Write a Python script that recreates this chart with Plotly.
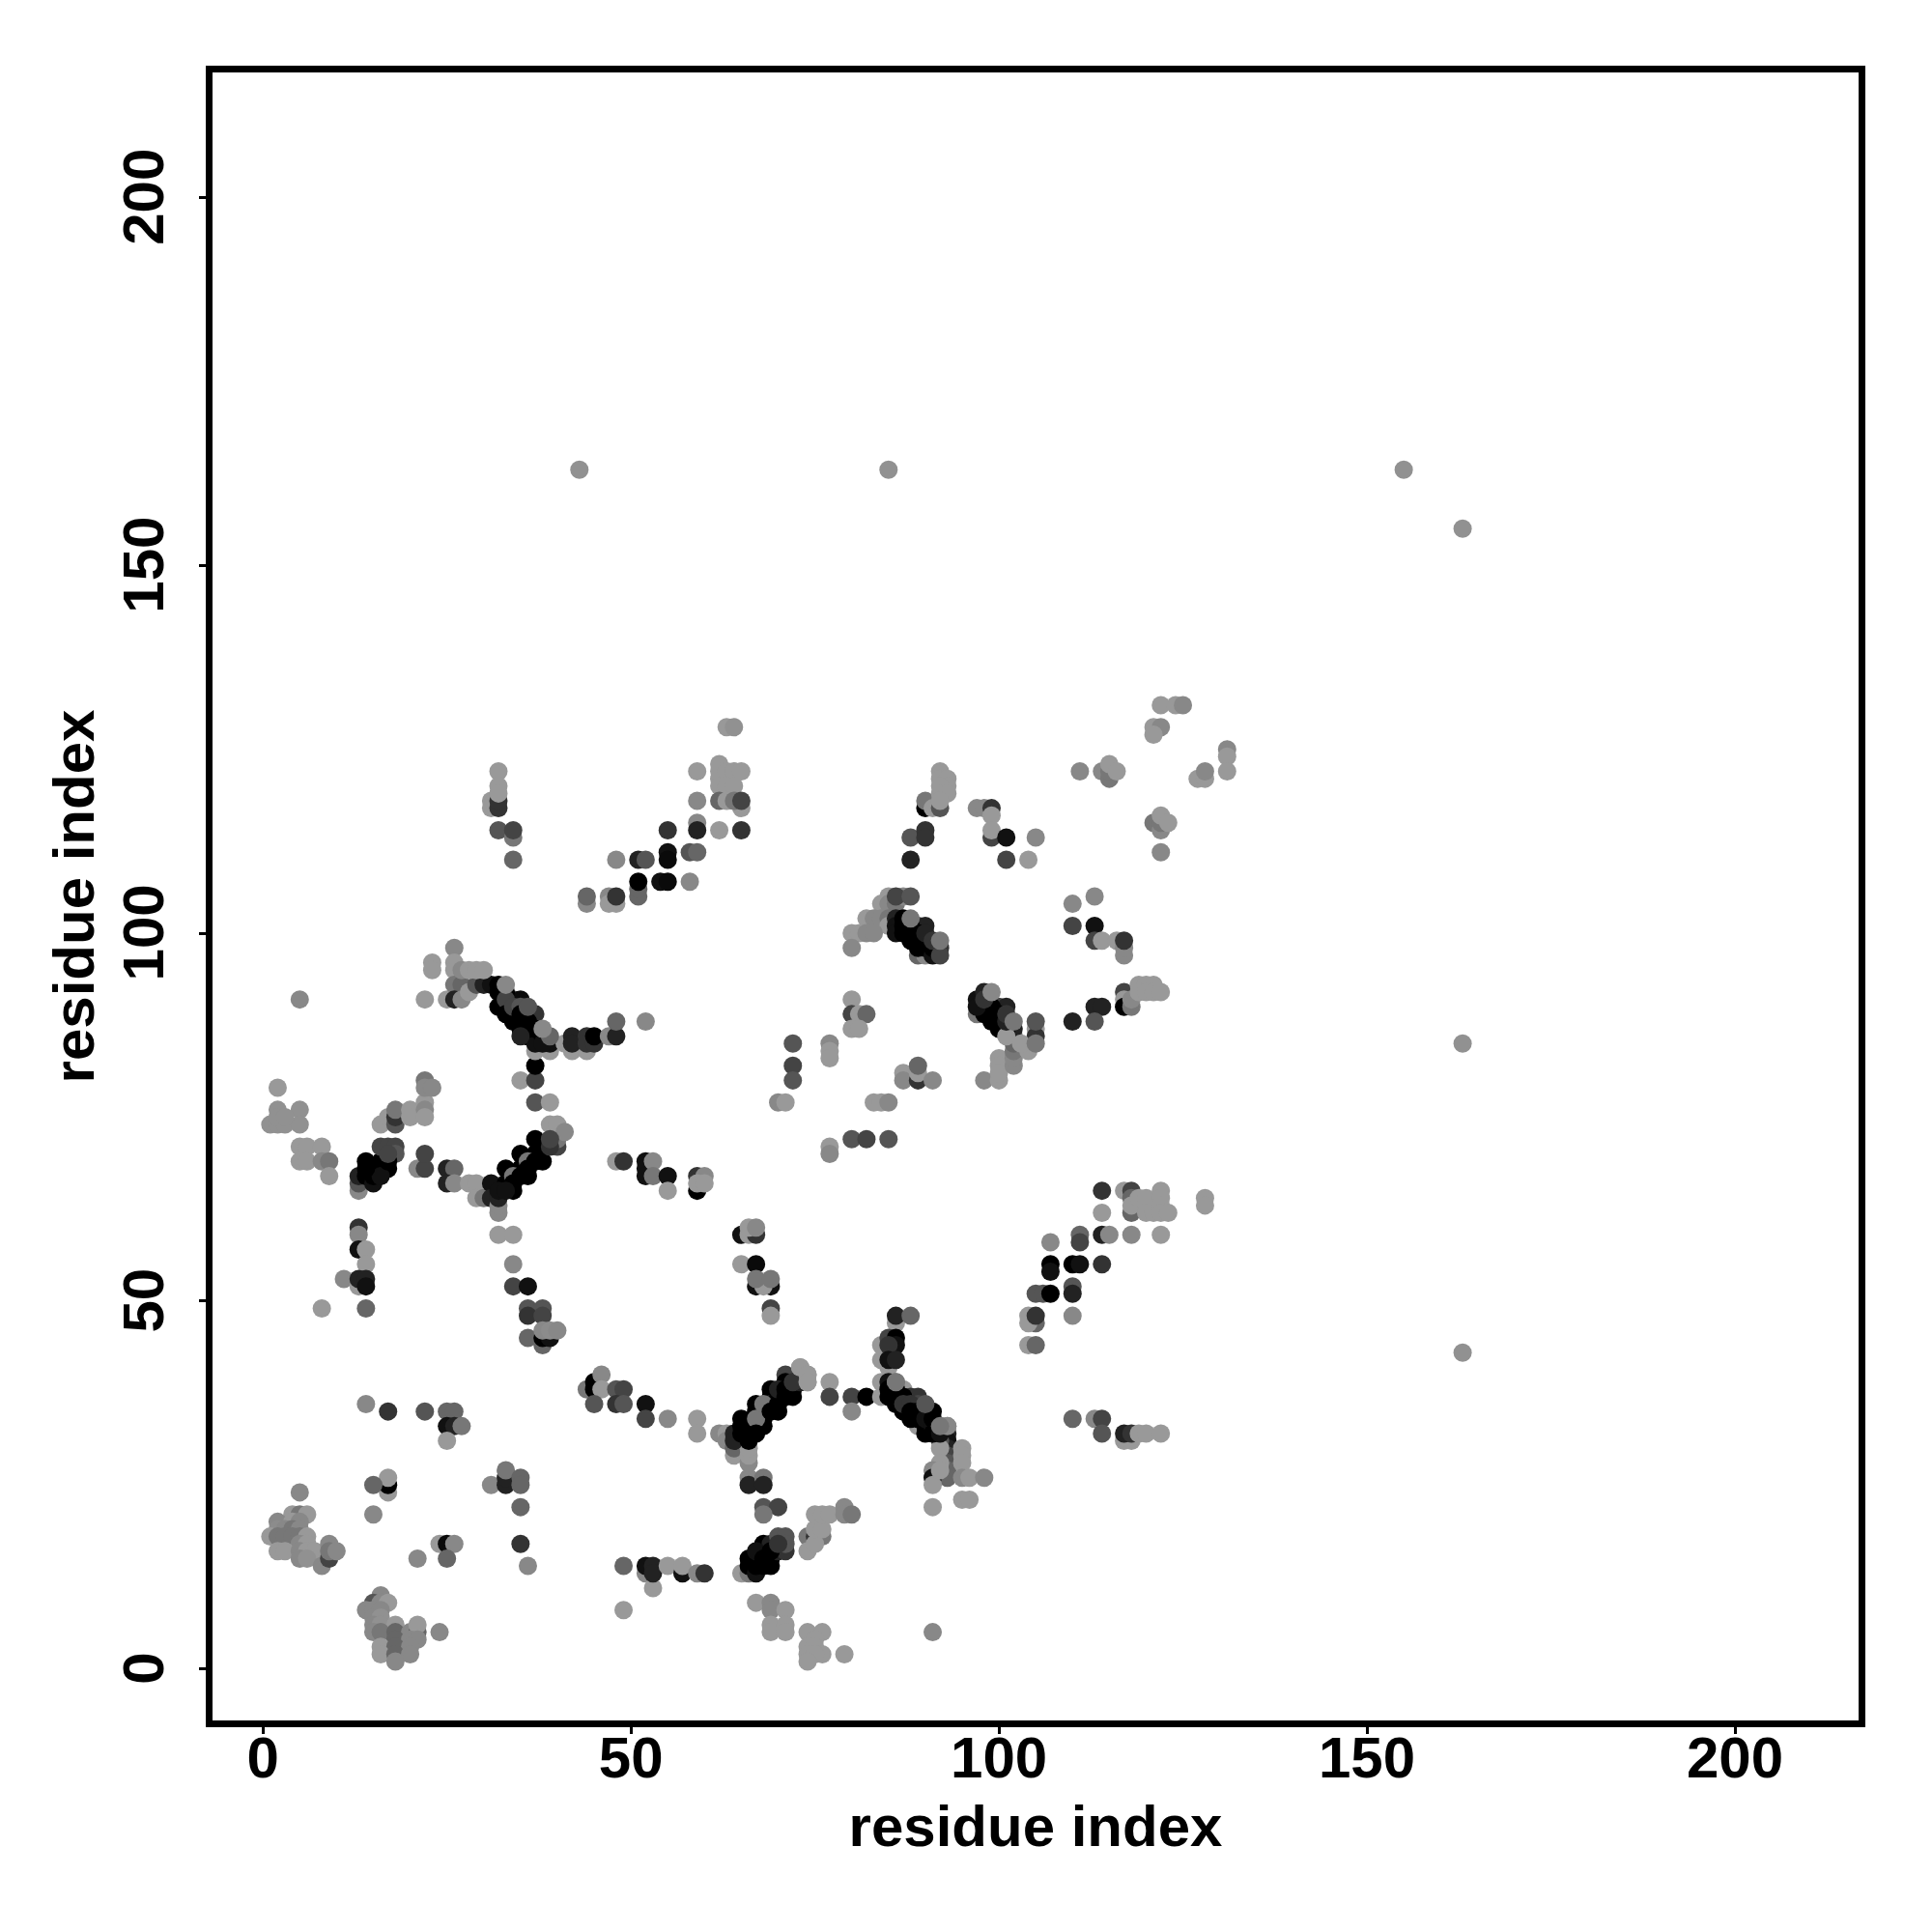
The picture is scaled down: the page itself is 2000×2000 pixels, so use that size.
import plotly.graph_objects as go

# (residue i, residue j, grey score)
isolated = [(43,163,145),(85,163,145),(155,163,145),(163,155,145),(163,85,145),(163,43,145),(5,91,136)]
low_left = [(4,21,153),(5,21,119),(6,21,153),(2,20,136),(4,20,153),(5,20,136),(2,19,140),(3,19,136),(4,19,119),(5,19,136),
 (1,18,153),(2,18,119),(3,18,119),(4,18,119),(5,18,119),(6,18,153),(5,17,136),(6,17,153),(2,16,153),(3,16,153),(5,16,136),(6,16,153),(7,16,153),
 (5,15,136),(6,15,145),(8,14,136),(9,15,68),(9,17,136),(9,16,119),(10,16,136),(5,24,136)]
low_mid = [(16,10,136),(15,9,85),(16,9,136),(17,9,153),(14,8,136),(15,8,136),(16,8,136),(15,7,136),(16,7,145),(15,6,136),(16,6,145),(18,6,153),
 (15,5,136),(16,5,119),(18,5,102),(20,5,136),(21,5,102),(21,6,153),(24,5,136),(18,4,102),(20,4,136),(21,4,136),(16,3,153),(18,3,102),(20,3,136),(16,2,153),(18,2,102),(20,2,136),(18,1,136)]
low_scatter = [(8,49,153),(14,49,102),(14,36,136),(17,35,51),(22,35,85),(25,35,102),(26,35,102),(25,33,17),(26,33,34),(27,33,119),(25,31,153),
 (17,24,153),(17,25,0),(17,26,153),(15,25,102),(15,21,136),(31,25,136),(33,25,34),(33,26,34),(33,27,119),(35,26,102),(35,25,102),(35,22,102),(35,17,51),(36,14,136),
 (24,17,153),(25,17,10),(26,17,136),(25,15,102),(21,15,136),(49,14,102),(52,13,136),(53,11,153),(52,14,17),(53,14,34),(53,13,34),(55,14,153),(57,13,17),(57,14,153),(59,13,136),(60,13,51),(49,8,153)]
mid_strand = [(38,44,102),(36,49,85),(38,49,85),(36,48,51),(38,48,68),(36,45,102),(38,45,0),(39,45,17),(38,46,136),(39,46,140),(40,46,136),
 (44,38,119),(45,39,0),(45,38,0),(46,40,136),(46,38,153),(48,38,85),(49,38,68),(45,36,85),(48,36,51),(49,36,85),(52,36,17),(52,34,68),(55,34,136),(59,34,153),(59,32,153)]
arc_left = [(62,32,136),(63,32,153),(63,31,136),(64,29,153),(64,30,102),(65,13,153),(66,13,119),(66,26,136),(66,25,34),(68,26,119),(68,25,34),(66,28,136),
 (66,29,153),(66,30,153),(64,32,34),(64,31,34),(65,34,0),(65,33,0),(65,32,0),(66,31,0),(66,32,0),(67,36,0),(67,35,0),(67,33,0),(68,35,0),(68,34,0),(68,33,0),(69,38,0),(69,37,0),(69,36,51),
 (70,37,0),(70,35,0),(71,40,68),(71,39,0),(72,38,0),(72,37,0),(73,39,34),(73,41,153),(74,40,153),(74,39,153),(77,39,153),(77,37,68),(80,37,68),(80,35,136),(82,37,0)]
v_right = [(84,44,153),(84,42,153),(84,39,153),(84,37,153),(85,41,153),(86,47,153),(86,48,34),(88,48,102),(85,45,68),(86,45,0),(86,44,17),(85,44,51),(85,42,17),(86,42,34),
 (87,38,153),(89,33,153),(85,39,17),(85,38,0),(85,37,0),(86,36,0),(86,39,119),(87,35,0),(88,37,51),(89,37,51),(88,34,0),(89,34,0),(89,36,68),(90,33,0),(90,32,0),(91,35,0),(92,33,119),(93,33,136),
 (93,32,34),(93,31,17),(93,30,34),(93,29,68),(93,28,85),(93,27,102),(93,26,102),(92,31,85),(92,30,153),(92,28,153),(91,27,136),(91,26,17),(91,25,153),(92,27,153),
 (95,30,153),(95,29,153),(95,28,153),(95,26,136),(96,26,153),(98,26,136),(95,23,153),(96,23,153),(91,22,153),(91,5,136)]
arc_low = [(67,9,153),(69,9,136),(69,8,136),(71,8,153),(69,6,153),(69,5,153),(71,6,153),(71,5,153),(74,5,153),(76,5,153),(75,4,153),(74,3,153),(75,3,153),(76,2,153),(74,2,153),(75,2,153),(74,1,153),(79,2,153),
 (68,22,85),(70,22,68),(68,21,119),(66,15,0),(66,14,0),(67,13,17),(67,14,0),(68,17,0),(68,16,0),(68,14,0),(69,14,0),(69,15,0),(70,16,34),(71,16,51),(69,17,34),(70,18,85),(71,18,85),(71,17,85),
 (74,18,119),(75,18,51),(76,18,119),(74,16,153),(75,17,153),(75,19,153),(76,19,153),(75,21,153),(76,21,153),(77,21,153),(79,22,136),(79,21,136),(80,21,119)]
upper_left = [(2,79,153),(2,76,145),(5,76,145),(1,74,145),(2,74,145),(3,74,145),(5,74,145),(2,75,145),(3,75,145),(5,71,153),(6,71,153),(8,71,153),(5,69,153),(6,69,153),(8,69,136),(9,69,119),(9,67,153),
 (13,60,51),(13,59,136),(13,57,17),(14,57,153),(14,55,153),(11,53,136),(13,52,153),(13,53,34),(14,53,34),(14,52,17),
 (13,65,136),(13,66,85),(13,67,34),(14,69,0),(14,67,0),(15,66,17),(16,69,0),(17,68,0),(16,71,68),(17,71,68),(18,71,68),(18,70,85),
 (16,74,153),(17,75,153),(18,74,85),(18,75,51),(18,76,119),(20,76,153),(20,75,153),(22,77,153),(22,76,136),(22,75,153),(22,80,119),(22,79,136),(23,79,136),
 (21,68,136),(22,68,68),(22,70,68),(25,68,34),(26,68,102),(25,66,34),(26,66,136),(28,66,153),(29,66,153),(29,64,153),(30,64,119)]
diag_up = [(31,66,17),(31,64,34),(32,62,136),(32,63,136),(32,64,34),(33,68,0),(33,66,0),(34,65,0),(35,70,0),(35,68,0),(36,67,0),(37,72,0),(37,70,0),(38,69,0),(38,71,0),(40,71,68),(40,72,119),(39,74,153),(40,74,153),(41,73,136),
 (32,59,153),(34,59,153),(34,55,136),(34,52,68),(36,52,17),(35,80,153),(37,80,68),(37,82,0),(37,77,85),(39,77,153)]
diag_down = [(26,98,136),(23,96,153),(23,95,153),(22,91,153),(25,91,153),(26,96,153),(26,95,153),(26,93,119),(27,93,102),(26,91,34),(27,91,136),(28,92,153),(29,93,85),(30,93,34),(31,93,17),
 (27,95,136),(28,95,153),(29,95,153),(30,95,153),(32,93,0),(32,90,0),(33,90,0),(34,88,0),(34,89,0),(34,91,68),(35,91,10),(35,87,0),(36,86,0),(36,89,119),(37,89,51),
 (37,84,153),(39,84,153),(37,86,0),(37,85,17),(39,85,17),(41,85,153),(42,84,153),(44,84,153),(42,86,34),(42,85,34),(44,86,51),(44,85,51),(45,85,51),(45,86,0),(47,86,136),(48,86,34),(48,88,102),(52,88,136)]
row_69 = [(48,69,153),(49,69,51),(52,69,17),(52,68,17),(52,67,17),(53,69,136),(53,67,119),(55,67,17),(55,65,153),(59,65,0),(59,67,51),(60,67,136),(59,66,153),(60,66,153)]
mid_center = [(65,59,17),(66,59,153),(67,59,51),(66,60,153),(67,60,136),(65,55,153),(67,55,10),(67,52,17),(69,52,17),(68,52,153),(67,53,119),(69,53,119),(69,49,68),(69,48,153),
 (72,85,85),(72,82,68),(72,80,85),(70,77,136),(71,77,153),(77,85,136),(77,84,153),(77,83,153),(77,71,153),(77,70,136),(80,72,85),(82,72,68),(85,72,85),
 (80,91,153),(80,89,68),(81,89,153),(82,89,102),(80,87,153),(81,87,153),(83,77,153),(84,77,153),(85,77,136),(87,81,153),(87,80,136),(89,80,51),(89,81,153),(89,82,102),(91,80,136)]
block_100 = [(98,80,136),(100,80,153),(100,83,153),(100,82,153),(100,81,153),(102,82,136),(102,83,136),(102,84,119),(102,85,102),(102,86,102),(102,87,34),(105,87,153),(105,86,51),(104,84,153),(103,85,153),(105,85,119),
 (97,91,17),(98,92,34),(97,89,119),(98,90,0),(98,89,0),(100,90,68),(101,90,34),(99,88,0),(100,88,0),(100,87,0),(101,87,0),(101,86,153),
 (110,88,34),(113,90,34),(114,90,34),(113,88,85),(117,92,68),(117,91,153),(117,90,0),(118,90,119),(118,91,136),(119,93,153),(120,93,153),(121,93,153),(119,92,153),(120,92,153),(121,92,153),(122,92,153)]
right_low = [(114,65,51),(117,65,153),(118,65,68),(118,64,102),(118,62,102),(118,63,153),(119,64,153),(120,64,153),(120,62,153),(121,62,153),(122,65,153),(122,64,153),(122,63,153),(122,62,153),(123,62,153),(128,64,153),(128,63,153),
 (114,62,153),(114,59,34),(115,59,136),(118,59,136),(122,59,153),(111,59,102),(111,58,68),(107,58,136),(107,55,0),(107,54,17),(110,55,0),(111,55,17),(114,55,51),(105,51,85),(106,51,85),(107,51,0),(110,52,85),(110,51,34),(110,48,136),
 (104,48,153),(105,47,102),(104,47,153),(105,48,51),(104,44,153),(105,44,102),(110,34,102),(113,34,136),(114,34,68),(114,32,85),(117,31,153),(118,31,153),(117,32,34),(118,32,51),(119,32,153),(120,32,153),(122,32,153)]
upper_a = [(32,122,153),(32,120,153),(31,118,153),(31,117,153),(32,117,51),(32,118,51),(32,119,153),(32,114,85),(34,113,119),(34,114,68),(34,110,102),
 (59,122,153),(62,123,153),(62,122,153),(62,121,153),(62,120,153),(63,122,153),(64,122,153),(65,122,153),(63,120,153),(64,120,153),(65,117,153),(62,118,102),(63,118,153),(64,118,119),(65,118,68),(59,118,136),(59,115,136),(59,114,34),(62,114,153),(65,114,51),
 (63,128,153),(64,128,145),(55,114,51),(55,111,17),(55,110,10),(58,111,85),(59,111,102),(51,110,34),(52,110,85),(48,110,136),(51,105,102),(51,106,102),(51,107,0),(54,107,17),(55,107,10),(58,107,136),(44,104,136),(44,105,102),(47,105,136),(47,104,153),(48,104,153),(48,105,51)]
upper_b = [(122,131,153),(124,131,153),(125,131,136),(121,128,153),(122,128,136),(121,127,153),(131,125,136),(131,124,153),(131,122,153),(127,121,153),(128,121,153),(128,122,136),
 (111,122,136),(114,122,136),(115,121,119),(115,122,119),(115,123,153),(116,122,153),(121,115,119),(122,114,136),(122,115,119),(122,116,153),(123,115,153),(122,111,136),
 (90,117,0),(90,118,119),(91,117,153),(92,117,85),(92,122,153),(92,121,153),(93,121,153),(93,120,153),(92,120,153),(92,119,153),(93,119,153),(92,118,153),(88,113,85),(90,114,51),(90,113,51),(88,110,34),
 (97,117,136),(98,117,136),(99,117,51),(99,116,153),(99,113,68),(99,114,153),(101,113,17),(105,113,136),(101,110,68),(104,110,153),
 (110,104,136),(113,105,136),(110,101,68),(113,101,17),(113,99,68),(114,99,153),(116,99,153),(117,97,136),(117,98,136),(117,99,51)]
block_85 = [(85,105,153),(84,104,153),(85,104,136),(86,104,119),(87,105,136),(86,105,68),(88,105,85),(82,102,153),(83,102,136),(84,102,136),(85,102,119),(85,101,153),(80,100,153),(81,100,153),(82,100,136),(83,100,136),(80,98,136),
 (86,102,34),(86,101,17),(86,100,17),(87,101,0),(87,100,0),(88,100,0),(88,99,0),(89,101,51),(90,101,34),(89,97,102),(90,97,136),(89,98,0),(90,98,0),(91,97,17),(92,98,51)]
bands = [(34,67,119),(36,69,119),(34,66,0),(32,65,17),(33,65,17),(35,67,0),(37,69,0),(36,68,0),(39,71,51),(39,72,68),
 (15,68,0),(15,67,0),(16,68,0),(16,67,17),(17,69,0),(17,70,68),(14,68,0),
 (66,33,0),(67,34,119),(67,32,0),(68,36,119),(69,35,0),(70,36,0),(70,38,34),(71,38,0),(71,37,0),(72,39,51),
 (67,15,0),(67,16,17),(68,15,0),(69,16,0),(70,17,51),
 (86,38,0),(86,37,0),(87,37,0),(87,36,51),(88,36,51),(88,35,0),(89,35,0),(90,34,17),(91,33,17),(91,34,0),(91,32,0),(92,32,17),(90,36,85),
 (32,92,0),(33,92,0),(33,91,68),(33,89,0),(34,90,68),(35,90,85),(35,89,0),(35,88,0),(36,88,0),(36,87,0),(37,87,0),(38,86,0),(38,85,17),(35,86,34),(36,90,85),
 (99,90,0),(99,89,0),(100,89,0),(101,88,34),(101,89,51),(97,90,17),(98,91,51),
 (87,102,0),(88,101,0),(89,100,0),(89,99,0),(90,99,0),(90,100,34),(91,98,0),(91,99,51),(92,97,68)]
on_top = [(33,93,136),(86,39,119),(93,33,136),(92,33,119),(39,86,102),(38,87,136),(99,92,136),(102,88,119),(105,88,85),(88,102,119),(92,99,119),(73,41,153),(74,40,153),(74,39,153)]

clusters = [isolated, low_left, low_mid, low_scatter, mid_strand, arc_left, v_right, arc_low, upper_left, diag_up, diag_down, row_69, mid_center, block_100, right_low, upper_a, upper_b, block_85, bands, on_top]
residue_i, residue_j, score = [], [], []
for c in clusters:
    for a, b, s in c:
        residue_i.append(a); residue_j.append(b); score.append(s)

tick_values = [0, 50, 100, 150, 200]
axis_label = "residue index"

fig = go.Figure(go.Scatter(
    x=residue_i, y=residue_j, mode="markers", hoverinfo="skip",
    marker=dict(size=19, color=score, cmin=0, cmax=255,
                colorscale=[[0, "rgb(0,0,0)"], [1, "rgb(255,255,255)"]], line=dict(width=0), showscale=False)))

font = dict(family="Liberation Sans", size=60, color="black")
axis = dict(tickmode="array", tickvals=tick_values, ticktext=[str(t) for t in tick_values], showgrid=False, zeroline=False,
            showline=True, linewidth=6.5, linecolor="black", mirror=True, ticks="outside", ticklen=7, tickwidth=3, tickcolor="black",
            tickfont=dict(family="Liberation Sans", size=60, color="black", weight="bold"), automargin=False)
fig.update_layout(
    width=2000, height=2000, margin=dict(l=219.5, r=76, t=74.5, b=219, pad=0), paper_bgcolor="white", plot_bgcolor="white", showlegend=False,
    xaxis=dict(axis, range=[-6.85, 216.8], ticklabelstandoff=-27, title=dict(text=axis_label, font=dict(font, weight="bold"), standoff=20)),
    yaxis=dict(axis, range=[-7.0, 217.0], tickangle=-90, ticklabelstandoff=13, ticktext=[str(t) + "\u00a0" for t in tick_values],
               title=dict(text=axis_label, font=dict(font, weight="bold"), standoff=1)))
fig.write_html("out.html", config=dict(displayModeBar=False), post_script="document.body.style.margin='0';")
